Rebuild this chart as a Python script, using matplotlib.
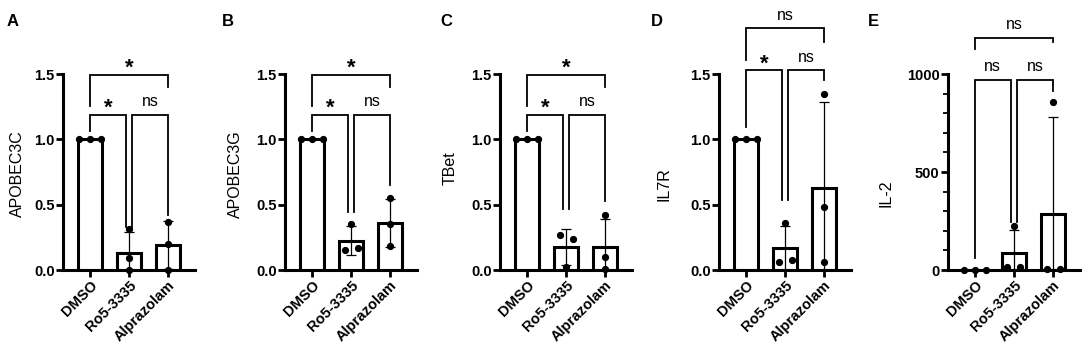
import numpy as np
import matplotlib.pyplot as plt
from matplotlib.ticker import MultipleLocator

plt.rcParams['font.family'] = ['Liberation Sans', 'DejaVu Sans']

groups = ['DMSO', 'Ro5-3335', 'Alprazolam']

# individual replicate values (DMSO, Ro5-3335, Alprazolam)
apobec3c = [[1.0, 1.0, 1.0], [0.31, 0.09, 0.0], [0.37, 0.20, 0.0]]
apobec3g = [[1.0, 1.0, 1.0], [0.35, 0.15, 0.17], [0.55, 0.35, 0.18]]
tbet = [[1.0, 1.0, 1.0], [0.27, 0.235, 0.02], [0.42, 0.10, 0.01]]
il7r = [[1.0, 1.0, 1.0], [0.36, 0.06, 0.08], [1.35, 0.48, 0.06]]
il2 = [[1, 1, 1], [225, 15, 15], [855, 3, 5]]

# significance: (DMSO vs Alprazolam, DMSO vs Ro5-3335, Ro5-3335 vs Alprazolam)
sig_a = ['*', '*', 'ns']
sig_b = ['*', '*', 'ns']
sig_c = ['*', '*', 'ns']
sig_d = ['ns', '*', 'ns']
sig_e = ['ns', 'ns', 'ns']

panels = [
    dict(letter='A', ylabel='APOBEC3C', data=apobec3c, sig=sig_a),
    dict(letter='B', ylabel='APOBEC3G', data=apobec3g, sig=sig_b),
    dict(letter='C', ylabel='TBet', data=tbet, sig=sig_c),
    dict(letter='D', ylabel='IL7R', data=il7r, sig=sig_d),
    dict(letter='E', ylabel='IL-2', data=il2, sig=sig_e),
]

# layout (pixels / data units), not data
W, H = 1084, 356
first_bar_px = [90, 312, 527, 746, 975]
spacing_px = 39
gap_px = 27
letter_px = [(7, 14), (222, 14), (440, 14), (651, 14), (868, 14)]
ylabel_y = [0.49, 0.49, 0.52, 0.44, 0.39]
ylabel_right_px = [25, 243, 458, 672, 893]
jitter = [
    [[-0.28, 0, 0.28], [0, 0, 0], [0, 0, 0]],
    [[-0.28, 0, 0.28], [0, -0.15, 0.17], [0, 0, 0]],
    [[-0.28, 0, 0.28], [-0.15, 0.17, 0], [0, 0, 0]],
    [[-0.28, 0, 0.28], [0, -0.15, 0.17], [0, 0, 0]],
    [[-0.28, 0, 0.28], [0, -0.17, 0.15], [0, -0.15, 0.17]],
]
# (top y, top left end, top right end, low y, DMSO end, Ro5 end, Alprazolam end)
brackets = [
    (1.495, 1.255, 1.40, 1.186, 1.06, 0.33, 0.42),
    (1.495, 1.255, 1.40, 1.186, 1.06, 0.446, 0.65),
    (1.495, 1.255, 1.40, 1.186, 1.06, 0.464, 0.53),
    (1.85, 1.607, 1.747, 1.53, 1.097, 0.536, 1.454),
    (1186, 1129, 1161, 971, 59, 246, 915),
]


def bracket(ax, x1, x2, y, y1, y2, label):
    ax.plot([x1, x1, x2, x2], [y1, y, y, y2], color='black', lw=1.3,
            clip_on=False, solid_joinstyle='miter')
    if label == '*':
        ax.annotate(label, xy=((x1 + x2) / 2, y), xytext=(0, -3),
                    textcoords='offset points', ha='center', va='bottom',
                    fontsize=16, fontweight='bold', annotation_clip=False)
    else:
        ax.annotate(label, xy=((x1 + x2) / 2, y), xytext=(0, 4),
                    textcoords='offset points', ha='center', va='bottom',
                    fontsize=11.5, annotation_clip=False)


fig = plt.figure(figsize=(W / 100, H / 100), dpi=100)

for k, p in enumerate(panels):
    left = first_bar_px[k] - gap_px
    right = first_bar_px[k] + 2 * spacing_px + gap_px
    ax = fig.add_axes([left / W, (H - 270) / H, (right - left) / W, 196 / H])
    x0 = (left - first_bar_px[k]) / spacing_px
    ax.set_xlim(x0, x0 + (right - left) / spacing_px)

    data = [np.array(v, dtype=float) for v in p['data']]
    means = [d.mean() for d in data]
    sds = [d.std(ddof=1) for d in data]
    xs = np.arange(len(groups))

    ax.bar(xs, means, width=0.6, facecolor='white', edgecolor='black',
           linewidth=2.2, zorder=2)
    ax.errorbar(xs, means, yerr=sds, fmt='none', ecolor='black', elinewidth=0.9,
                capsize=3.6, capthick=0.9, zorder=3)
    for i, d in enumerate(data):
        ax.plot(i + np.array(jitter[k][i]), d, 'o', color='black', ms=4.2,
                zorder=4, clip_on=False)

    if p['letter'] == 'E':
        ax.set_ylim(0, 1000)
        ax.set_yticks([0, 500, 1000])
        ax.yaxis.set_minor_locator(MultipleLocator(100))
        ax.tick_params(axis='y', which='minor', length=3.3, width=1.3)
    else:
        ax.set_ylim(0, 1.5)
        ax.set_yticks([0, 0.5, 1.0, 1.5])
        ax.set_yticklabels(['0.0', '0.5', '1.0', '1.5'])

    ax.set_xticks(xs)
    ax.set_xticklabels(groups, rotation=45, ha='right', va='top',
                       rotation_mode='anchor')
    ax.tick_params(axis='both', which='major', width=2, length=5,
                   labelsize=10.5, pad=1)
    for lbl in ax.get_xticklabels() + ax.get_yticklabels():
        lbl.set_fontweight('bold')

    for s in ['top', 'right']:
        ax.spines[s].set_visible(False)
    for s in ['left', 'bottom']:
        ax.spines[s].set_linewidth(2.2)

    ax.set_ylabel(p['ylabel'], fontsize=11.5)
    ax.yaxis.set_label_coords((ylabel_right_px[k] - left) / (right - left),
                              ylabel_y[k])

    ty, tl, tr, ly, e0, e1, e2 = brackets[k]
    off = 0.085
    bracket(ax, 0, 2, ty, tl, tr, p['sig'][0])
    bracket(ax, 0, 1 - off, ly, e0, e1, p['sig'][1])
    bracket(ax, 1 + off, 2, ly, e1, e2, p['sig'][2])

    lx, ly_px = letter_px[k]
    fig.text(lx / W, 1 - ly_px / H, p['letter'], fontsize=12, fontweight='bold',
             va='top', ha='left')

fig.savefig('out.png', dpi=100)
